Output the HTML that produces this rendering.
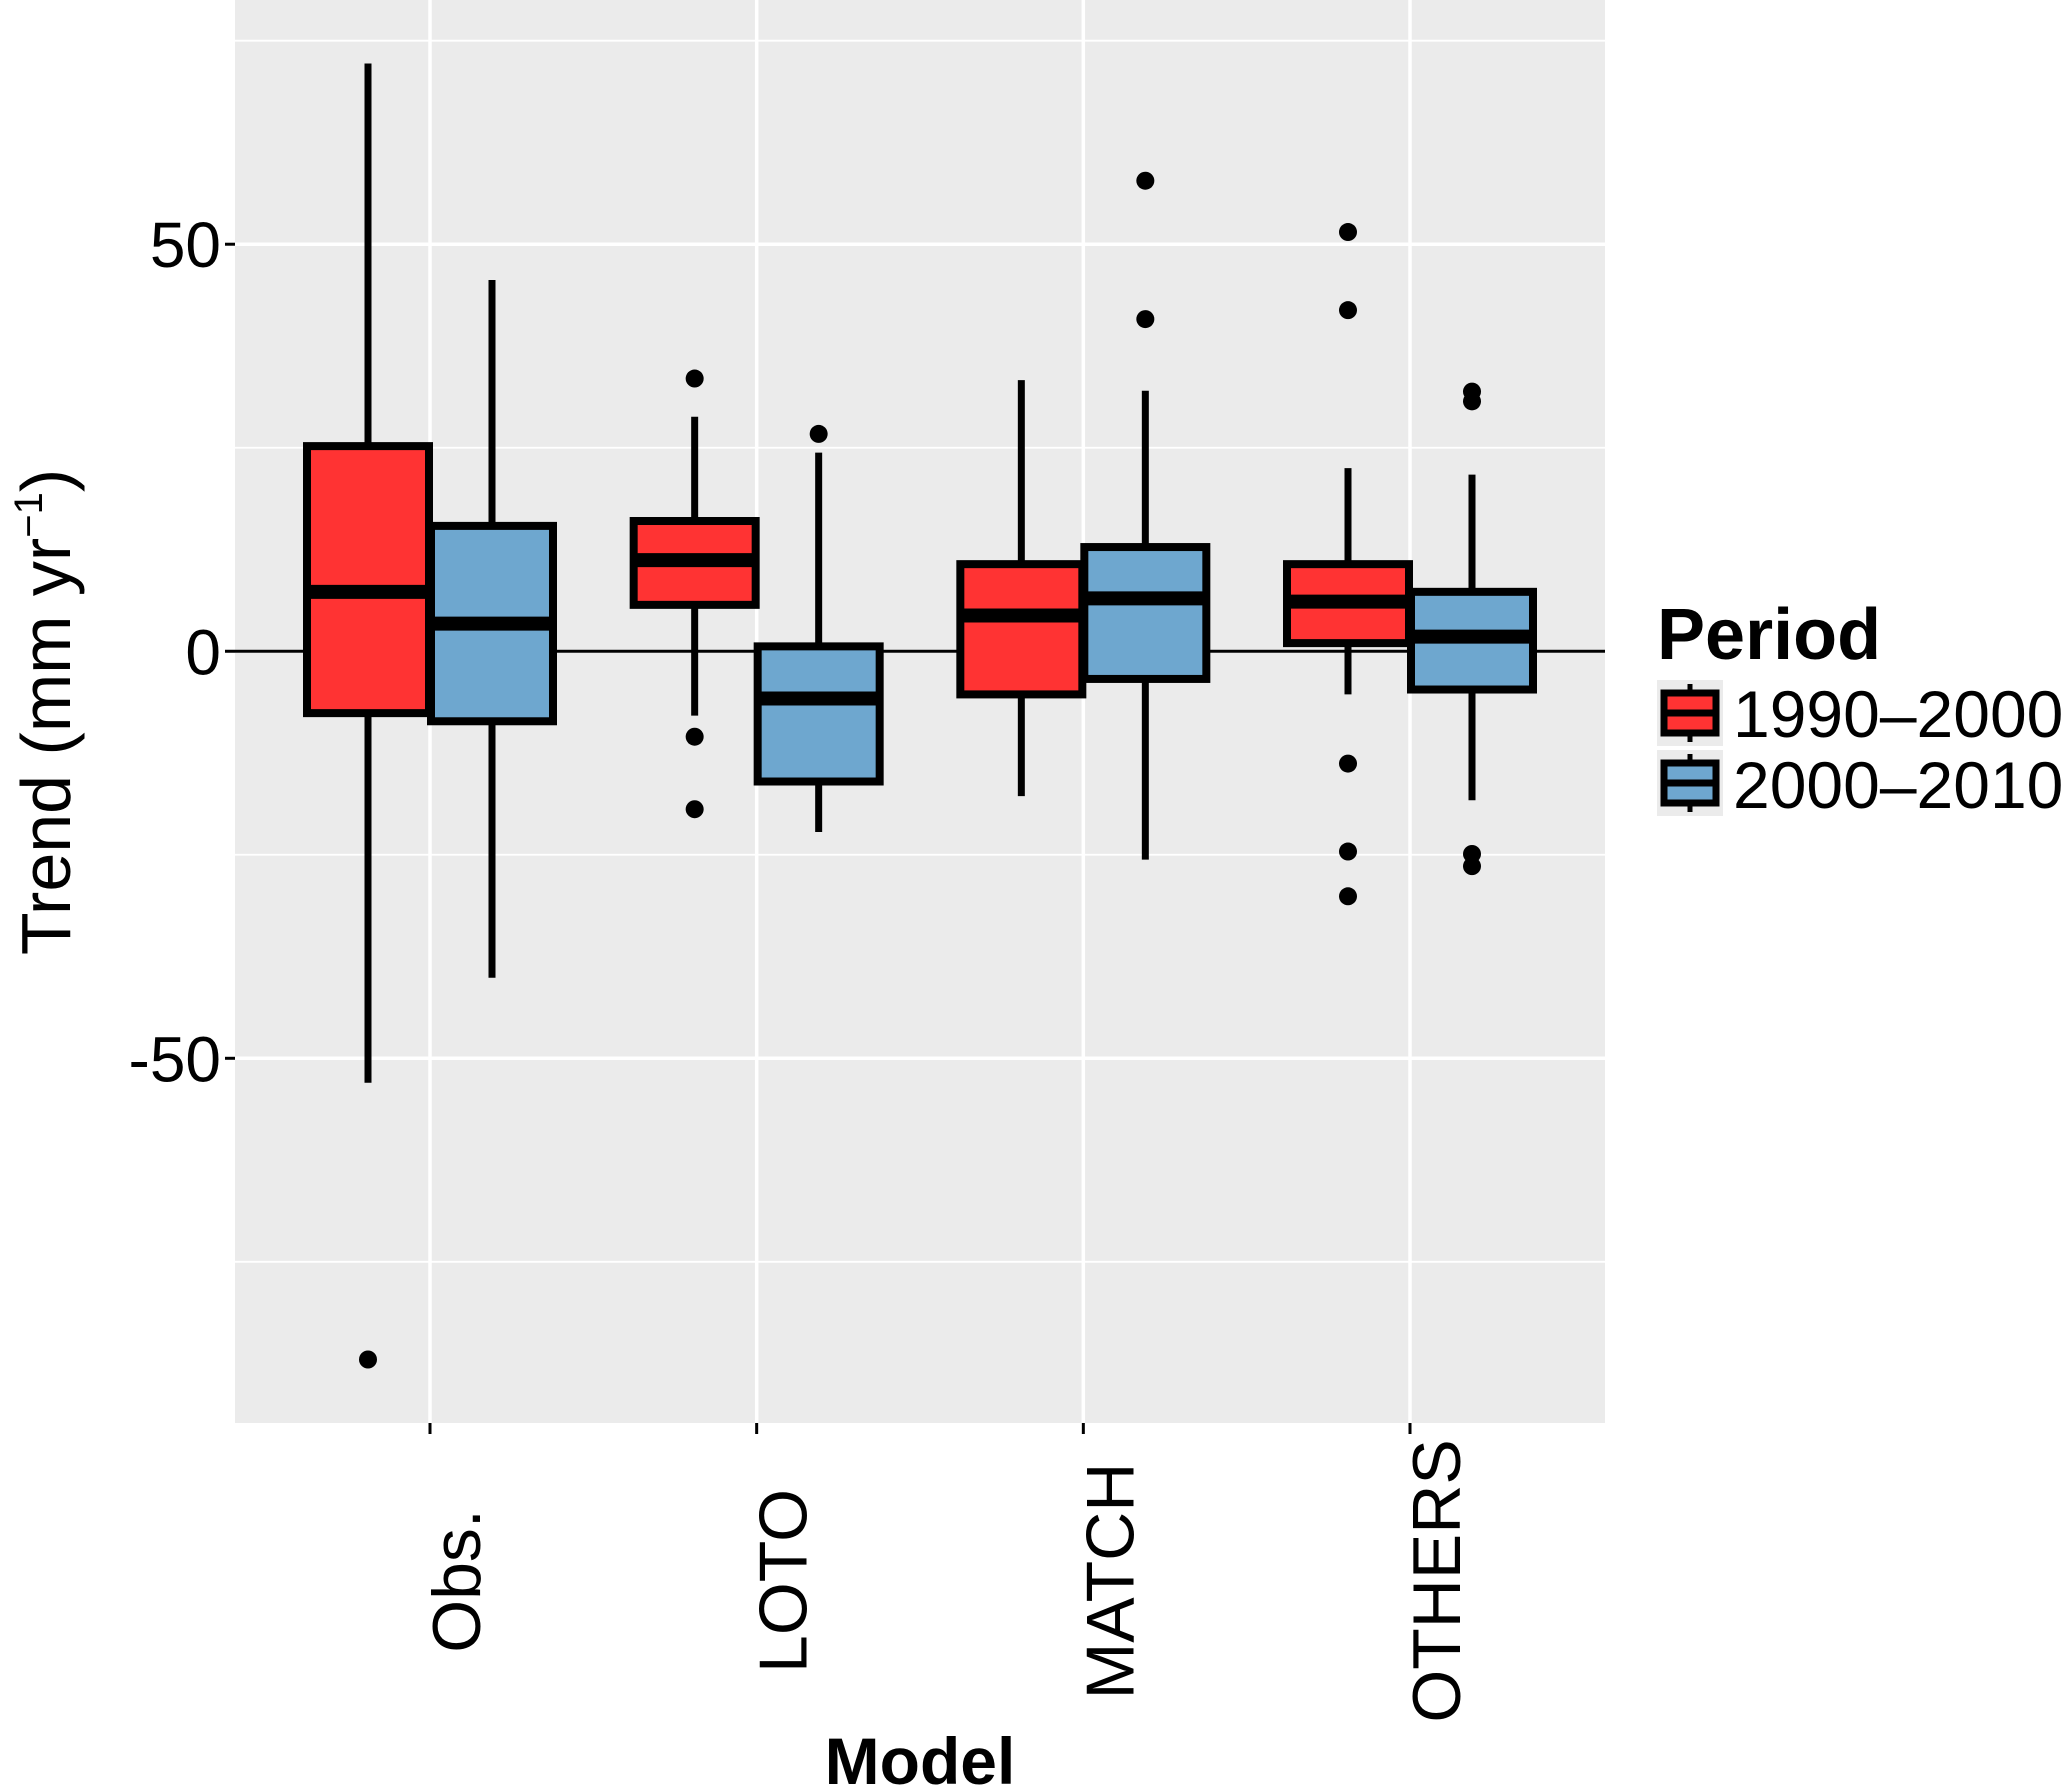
<!DOCTYPE html>
<html><head><meta charset="utf-8"><style>
body{margin:0;background:#fff;}
svg{display:block;font-family:"Liberation Sans",Arial,sans-serif;}
</style></head><body>
<svg id="chart" width="2067" height="1789" viewBox="0 0 2067 1789" xmlns="http://www.w3.org/2000/svg">
<g id="grid"></g><g id="marks"></g><g id="axes"></g>
<g>
 <text x="1657" y="659" font-size="72" font-weight="bold">Period</text>
 <g>
  <rect x="1657" y="680" width="66" height="66" fill="#ebebeb"/>
  <line x1="1690" y1="684" x2="1690" y2="742" stroke="#000" stroke-width="5"/>
  <rect x="1664" y="693" width="52" height="40" fill="#ff3333" stroke="#000" stroke-width="7"/>
  <line x1="1664" y1="713" x2="1716" y2="713" stroke="#000" stroke-width="7"/>
  <text x="1733" y="737" font-size="66">1990–2000</text>
 </g>
 <g>
  <rect x="1657" y="750" width="66" height="66" fill="#ebebeb"/>
  <line x1="1690" y1="754" x2="1690" y2="812" stroke="#000" stroke-width="5"/>
  <rect x="1664" y="763" width="52" height="40" fill="#6ea7cf" stroke="#000" stroke-width="7"/>
  <line x1="1664" y1="783" x2="1716" y2="783" stroke="#000" stroke-width="7"/>
  <text x="1733" y="808" font-size="66">2000–2010</text>
 </g>
</g>
<text transform="translate(70,712) rotate(-90)" text-anchor="middle" font-size="70">Trend (mm yr<tspan font-size="40" dy="-28">−1</tspan><tspan dy="28">)</tspan></text>
<text x="920" y="1784" text-anchor="middle" font-size="66" font-weight="bold">Model</text>
</svg>
<script>
const categories=["Obs.","LOTO","MATCH","OTHERS"];
const periods=["1990–2000","2000–2010"];
const colors=["#ff3333","#6ea7cf"];
// [lowWhisker, Q1, median, Q3, highWhisker] per category for each period
const stats1990=[[-53,-7.6,7.3,25.2,72.2],[-7.9,5.7,11.2,16,28.8],[-17.8,-5.3,4.4,10.7,33.3],[-5.3,1,6.1,10.7,22.5]];
const stats2000=[[-40.1,-8.6,3.4,15.4,45.6],[-22.2,-16,-5.8,0.6,24.4],[-25.6,-3.4,6.5,12.8,32],[-18.3,-4.7,1.8,7.3,21.7]];
const outliers1990=[[-87],[33.5,-10.5,-19.4],[],[51.5,41.9,-13.8,-24.6,-30.1]];
const outliers2000=[[],[26.7],[57.8,40.8],[31.9,30.7,-24.9,-26.4]];
const yTicks=[50,0,-50];
const yTickLabels=["50","0","-50"];
const yMinor=[75,25,-25,-75];

const NS="http://www.w3.org/2000/svg";
const P={l:235,r:1605,t:0,b:1423};
const yMax=80,yMin=-94.8;
function y(v){return P.t+(yMax-v)/(yMax-yMin)*(P.b-P.t);}
const pad=195,step=(P.r-P.l-2*pad)/(categories.length-1);
function xc(i){return P.l+pad+step*i;}
const bw=124;
function mk(tag,attrs,parent){const e=document.createElementNS(NS,tag);for(const k in attrs)e.setAttribute(k,attrs[k]);parent.appendChild(e);return e;}
const grid=document.getElementById('grid'),marks=document.getElementById('marks'),axes=document.getElementById('axes');
const bg=mk('rect',{x:P.l,y:P.t,width:P.r-P.l,height:P.b-P.t,fill:'#ebebeb'},grid);


yMinor.forEach(v=>{const l=mk('line',{x1:P.l,x2:P.r,y1:y(v),y2:y(v),stroke:'#fff','stroke-width':1.8},grid);

});
yTicks.forEach(v=>{const l=mk('line',{x1:P.l,x2:P.r,y1:y(v),y2:y(v),stroke:'#fff','stroke-width':3.5},grid);

});
categories.forEach((c,i)=>{const l=mk('line',{x1:xc(i),x2:xc(i),y1:P.t,y2:P.b,stroke:'#fff','stroke-width':3.5},grid);

});
const zl=mk('line',{x1:P.l,x2:P.r,y1:y(0),y2:y(0),stroke:'#000','stroke-width':3},grid);


const allStats=[stats1990,stats2000],allOut=[outliers1990,outliers2000];
categories.forEach((c,i)=>{
 [0,1].forEach(p=>{
  const s=allStats[p][i];const cx=xc(i)+(p===0?-bw/2:bw/2);
  const g=mk('g',{},marks);
  
  
  mk('line',{x1:cx,x2:cx,y1:y(s[4]),y2:y(s[0]),stroke:'#000','stroke-width':7},g);
  mk('rect',{x:cx-bw/2+1,y:y(s[3]),width:bw-2,height:y(s[1])-y(s[3]),fill:colors[p],stroke:'#000','stroke-width':8},g);
  mk('line',{x1:cx-bw/2+1,x2:cx+bw/2-1,y1:y(s[2]),y2:y(s[2]),stroke:'#000','stroke-width':14},g);
  allOut[p][i].forEach(v=>{const d=mk('circle',{cx:cx,cy:y(v),r:9,fill:'#000'},g);
  
  });
 });
});
yTicks.forEach((v,k)=>{
 mk('line',{x1:P.l-10,x2:P.l,y1:y(v),y2:y(v),stroke:'#000','stroke-width':3},axes);
 const t=mk('text',{x:P.l-14,y:y(v)+23,'text-anchor':'end','font-size':64,fill:'#000'},axes);
 t.textContent=yTickLabels[k];
 
 
});
categories.forEach((c,i)=>{
 mk('line',{x1:xc(i),x2:xc(i),y1:P.b,y2:P.b+11,stroke:'#000','stroke-width':3},axes);
 const t=mk('text',{transform:`translate(${xc(i)+50},1581) rotate(-90)`,'text-anchor':'middle','font-size':68,fill:'#000'},axes);
 t.textContent=c;
 
 
});
</script>
</body></html>
